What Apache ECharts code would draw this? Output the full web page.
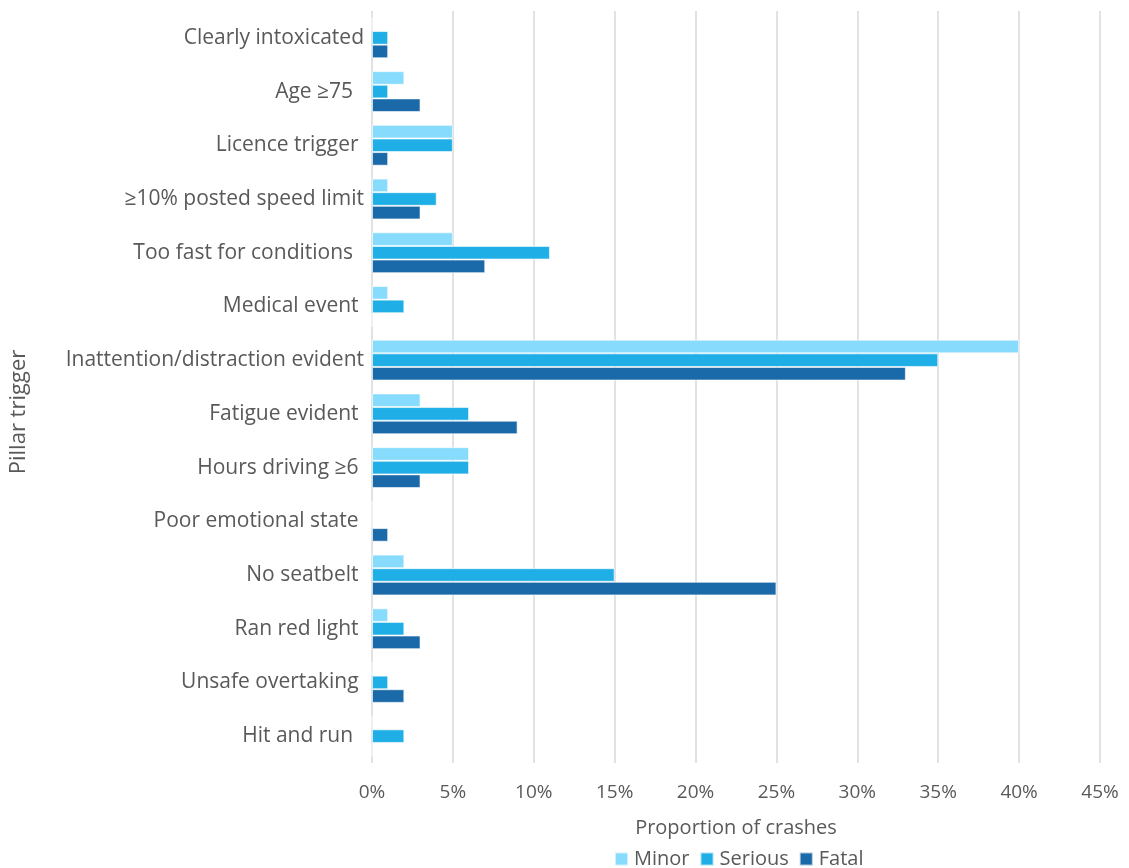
<!DOCTYPE html>
<html>
<head>
<meta charset="utf-8">
<script src="https://cdn.jsdelivr.net/npm/echarts@6/dist/echarts.min.js"></script>
<style>
  html, body { margin: 0; padding: 0; background: #fff; }
  #chart { width: 1129px; height: 868px; }
</style>
</head>
<body>
<div id="chart"></div>
<script>
// Pillar triggers, listed top to bottom (some source labels carry trailing spaces)
const categories = [
  'Clearly intoxicated',
  'Age \u226575  ',
  'Licence trigger ',
  '\u226510% posted speed limit',
  'Too fast for conditions  ',
  'Medical event ',
  'Inattention/distraction evident',
  'Fatigue evident ',
  'Hours driving \u22656 ',
  'Poor emotional state ',
  'No seatbelt ',
  'Ran red light ',
  'Unsafe overtaking ',
  'Hit and run  '
];

// Proportion of crashes (%) by severity
const minor   = [0, 2, 5, 1, 5, 1, 40, 3, 6, 0, 2, 1, 0, 0];
const serious = [1, 1, 5, 4, 11, 2, 35, 6, 6, 0, 15, 2, 1, 2];
const fatal   = [1, 3, 1, 3, 7, 0, 33, 9, 3, 1, 25, 3, 2, 0];

const xTicks = { min: 0, max: 45, step: 5 };

const FONT = '"Open Sans", Lato, sans-serif';
const TEXT = '#595959';

const chart = echarts.init(document.getElementById('chart'));

function barSeries(name, data, color) {
  return {
    name: name,
    type: 'bar',
    data: data,
    barGap: '0%',
    barCategoryGap: '24%',
    itemStyle: { color: color, borderColor: 'rgba(255,255,255,0.6)', borderWidth: 1 }
  };
}

chart.setOption({
  animation: false,
  textStyle: { fontFamily: FONT },
  grid: { left: 368, right: 29, top: 11, bottom: 105, containLabel: false },
  xAxis: {
    type: 'value',
    min: xTicks.min,
    max: xTicks.max,
    interval: xTicks.step,
    axisLabel: { formatter: '{value}%', color: TEXT, fontSize: 19, fontFamily: FONT, margin: 20 },
    axisLine: { show: false },
    axisTick: { show: false },
    splitLine: { lineStyle: { color: '#d9d9d9', width: 1.5 } },
    name: 'Proportion of crashes',
    nameLocation: 'middle',
    nameGap: 55,
    nameTextStyle: { color: TEXT, fontSize: 20, fontFamily: FONT }
  },
  yAxis: {
    type: 'category',
    inverse: true,
    data: categories,
    axisLine: { show: false },
    axisTick: { show: false },
    axisLabel: { color: TEXT, fontSize: 21, fontFamily: FONT, margin: 8, padding: [0, 0, 6, 0] },
    name: 'Pillar trigger',
    nameLocation: 'middle',
    nameGap: 342,
    nameRotate: 90,
    nameTextStyle: { color: TEXT, fontSize: 22, fontFamily: FONT, padding: [0, 50, 0, 0] }
  },
  legend: {
    bottom: -6,
    left: 609,
    itemWidth: 13,
    itemHeight: 13,
    itemGap: 10,
    icon: 'rect',
    textStyle: { color: TEXT, fontSize: 20, fontFamily: FONT, padding: [0, 0, 0, 1] },
    data: ['Minor', 'Serious', 'Fatal']
  },
  series: [
    barSeries('Minor', minor, '#87dbfd'),
    barSeries('Serious', serious, '#1faee6'),
    barSeries('Fatal', fatal, '#1a69a8')
  ]
});
</script>
</body>
</html>
